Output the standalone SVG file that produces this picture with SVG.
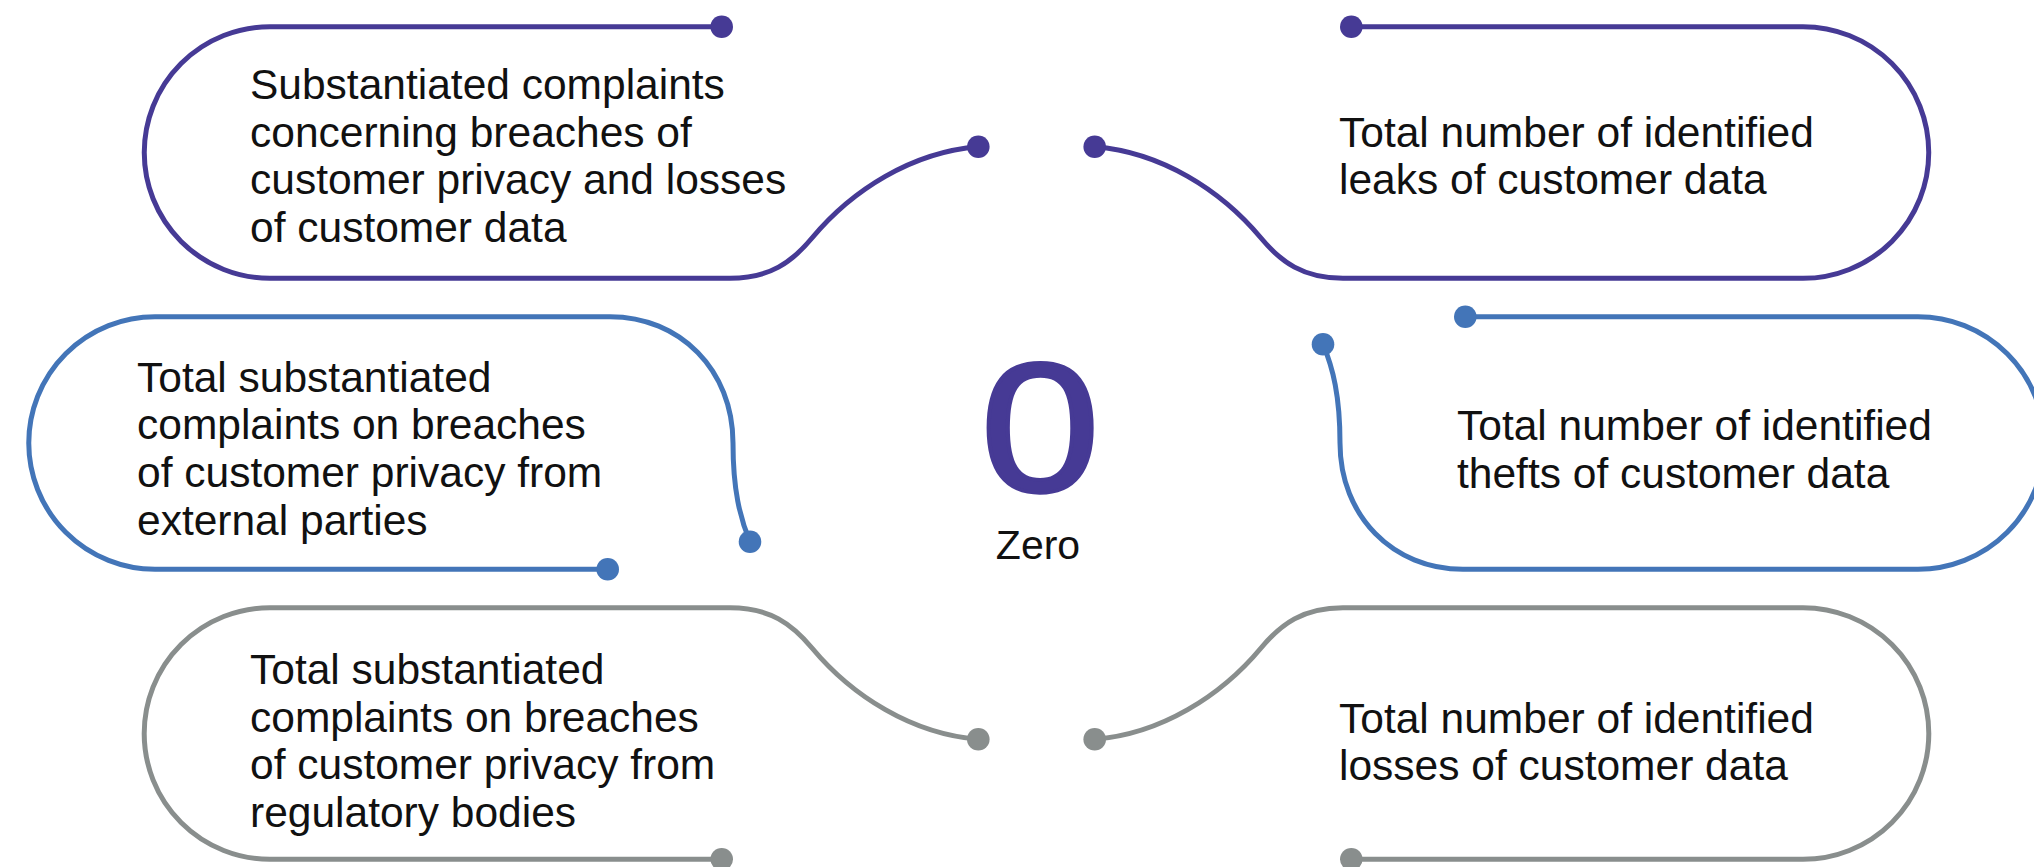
<svg xmlns="http://www.w3.org/2000/svg" width="2034" height="867" viewBox="0 0 2034 867">
<style>
.ol{fill:none;stroke-width:5;stroke-linecap:round;stroke-linejoin:round}
.p{stroke:#463a95}.b{stroke:#4375b8}.g{stroke:#898e8d}
.dp{fill:#463a95}.db{fill:#4375b8}.dg{fill:#898e8d}
.t{font-family:"Liberation Sans",Arial,sans-serif;font-size:42.5px;fill:#111}
</style>
<rect width="2034" height="867" fill="#fff"/>
<g id="node-privacy-complaints">
<path class="ol p" d="M721.7 26.7 H270 A125.8 125.8 0 0 0 270 278.3 H730 C770 278.3 792 262 812 238 C852 190 912 152 978.3 146.7"/>
<circle class="dp" cx="721.7" cy="26.7" r="11.3"/>
<circle class="dp" cx="978.3" cy="146.7" r="11.3"/>
<text class="t" x="250" y="99.3">Substantiated complaints</text>
<text class="t" x="250" y="146.7">concerning breaches of</text>
<text class="t" x="250" y="194">customer privacy and losses</text>
<text class="t" x="250" y="241.7">of customer data</text>
</g>
<g id="node-leaks">
<path class="ol p" d="M1351.3 26.7 H1803 A125.8 125.8 0 0 1 1803 278.3 H1343 C1303 278.3 1281 262 1261 238 C1221 190 1161 152 1094.7 146.7"/>
<circle class="dp" cx="1351.3" cy="26.7" r="11.3"/>
<circle class="dp" cx="1094.7" cy="146.7" r="11.3"/>
<text class="t" x="1339" y="146.7">Total number of identified</text>
<text class="t" x="1339" y="194">leaks of customer data</text>
</g>
<g id="node-external-parties">
<path class="ol b" d="M607.7 569.3 H155 A126.3 126.3 0 0 1 155 316.7 H610 C680 316.7 733 370 733 443 C733 490 740 518 750 541.7"/>
<circle class="db" cx="607.7" cy="569.3" r="11.3"/>
<circle class="db" cx="750" cy="541.7" r="11.3"/>
<text class="t" x="137" y="391.7">Total substantiated</text>
<text class="t" x="137" y="439.3">complaints on breaches</text>
<text class="t" x="137" y="487">of customer privacy from</text>
<text class="t" x="137" y="534.7">external parties</text>
</g>
<g id="node-thefts">
<path class="ol b" d="M1465.3 316.7 H1918 A126.3 126.3 0 0 1 1918 569.3 H1463 C1393 569.3 1340 516 1340 443 C1340 396 1333 368 1323 344.3"/>
<circle class="db" cx="1465.3" cy="316.7" r="11.3"/>
<circle class="db" cx="1323" cy="344.3" r="11.3"/>
<text class="t" x="1457" y="440">Total number of identified</text>
<text class="t" x="1457" y="488">thefts of customer data</text>
</g>
<g id="node-regulatory-bodies">
<path class="ol g" d="M721.7 859.3 H270 A125.8 125.8 0 0 1 270 607.7 H730 C770 607.7 792 624 812 648 C852 696 912 734 978.3 739.3"/>
<circle class="dg" cx="721.7" cy="859.3" r="11.3"/>
<circle class="dg" cx="978.3" cy="739.3" r="11.3"/>
<text class="t" x="250" y="684">Total substantiated</text>
<text class="t" x="250" y="731.7">complaints on breaches</text>
<text class="t" x="250" y="779.3">of customer privacy from</text>
<text class="t" x="250" y="827">regulatory bodies</text>
</g>
<g id="node-losses">
<path class="ol g" d="M1351.3 859.3 H1803 A125.8 125.8 0 0 0 1803 607.7 H1343 C1303 607.7 1281 624 1261 648 C1221 696 1161 734 1094.7 739.3"/>
<circle class="dg" cx="1351.3" cy="859.3" r="11.3"/>
<circle class="dg" cx="1094.7" cy="739.3" r="11.3"/>
<text class="t" x="1339" y="732.7">Total number of identified</text>
<text class="t" x="1339" y="780">losses of customer data</text>
</g>
<g id="connectors"></g>
<g id="center-value">
<text transform="translate(1040 491.2) scale(1.17 1)" x="0" y="0" text-anchor="middle" style="font-family:'Liberation Sans',Arial,sans-serif;font-weight:400;font-size:184px;fill:#463a95;stroke:#463a95;stroke-width:3.5;stroke-linejoin:round">0</text>
<text x="1038" y="559.3" text-anchor="middle" style="font-family:'Liberation Sans',Arial,sans-serif;font-size:41px;fill:#111">Zero</text>
</g>
</svg>
